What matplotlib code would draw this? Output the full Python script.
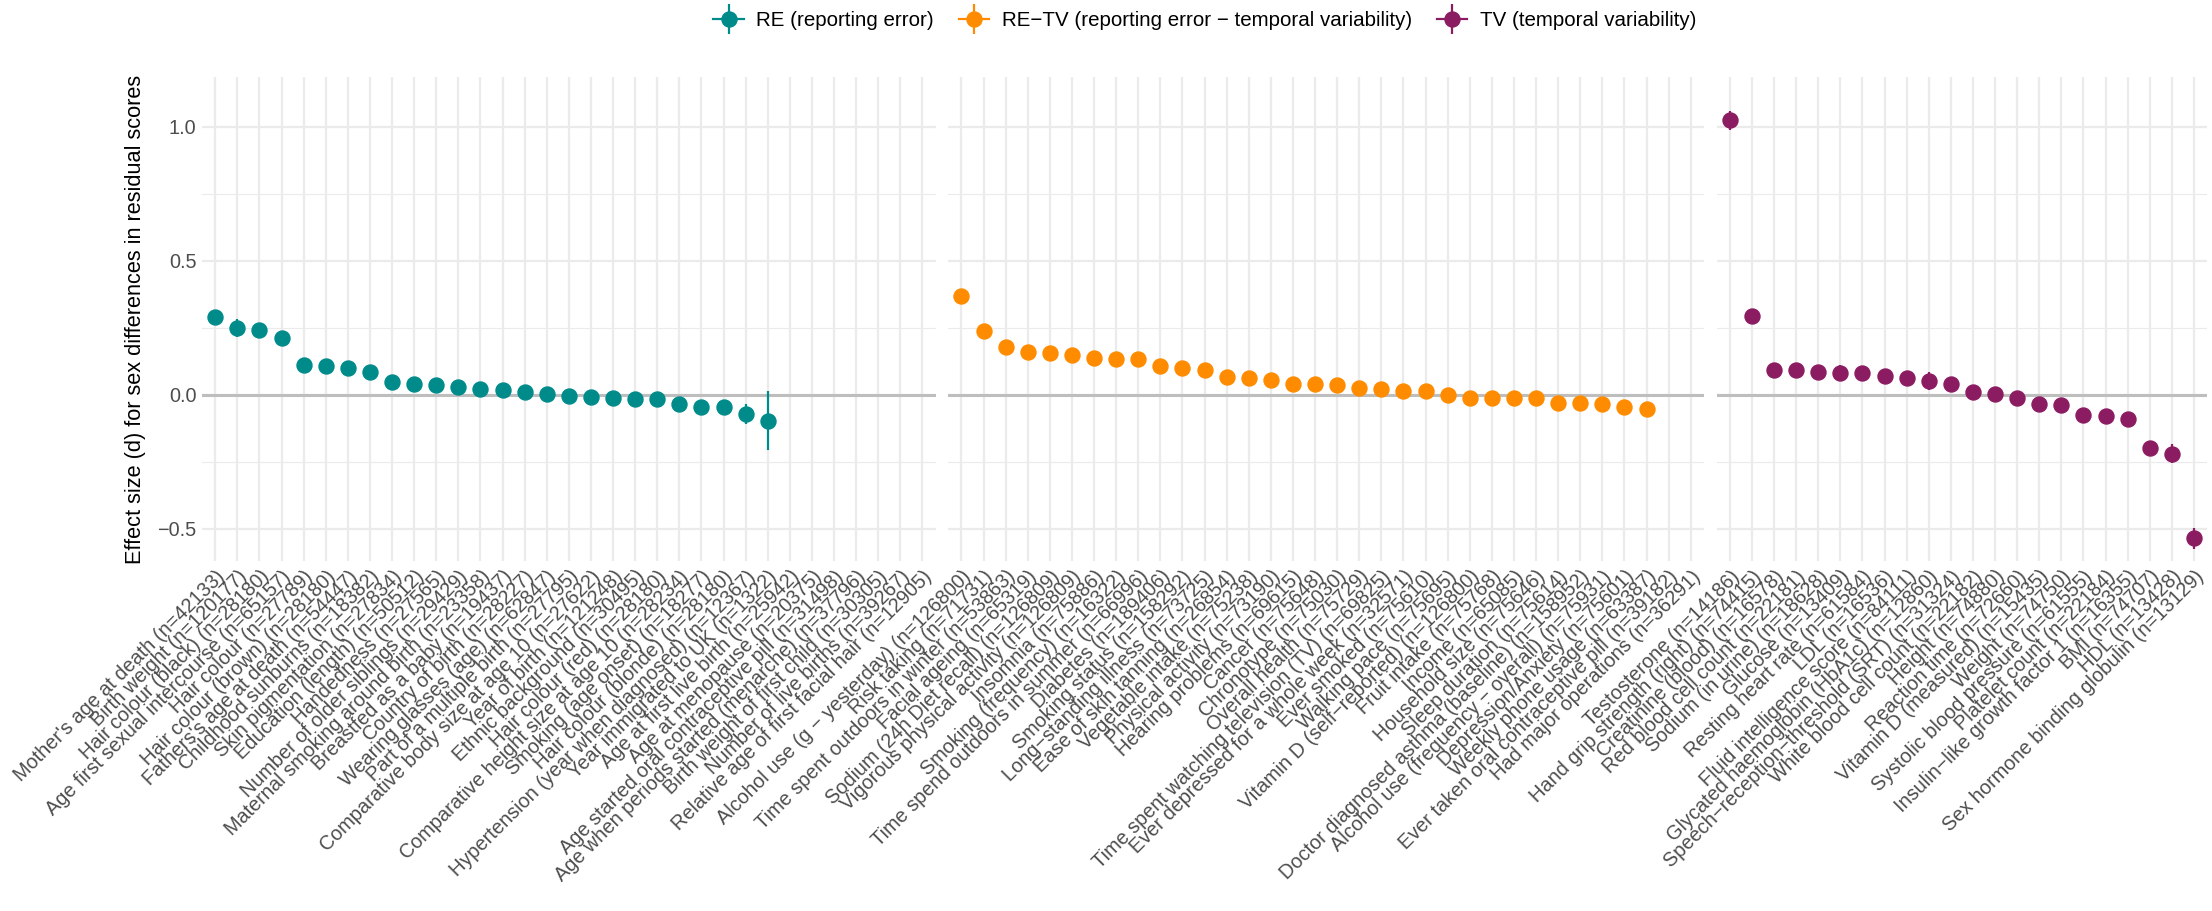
import numpy as np
import matplotlib.pyplot as plt
from matplotlib.lines import Line2D
from matplotlib.legend_handler import HandlerTuple

plt.rcParams['font.family'] = ['Liberation Sans', 'DejaVu Sans']

# RE (reporting error)
re_names = [
    "Mother's age at death", "Birth weight", "Hair colour (black)",
    "Age first sexual intercourse", "Hair colour", "Hair colour (brown)",
    "Fathers's age at death", "Childhood sunburns", "Skin pigmentation",
    "Education (length)", "Handedness", "Number of older siblings",
    "Maternal smoking around birth", "Breastfed as a baby", "Country of birth",
    "Wearing glasses (age)", "Part of a multiple birth",
    "Comparative body size at age 10", "Year of birth", "Ethnic background",
    "Hair colour (red)", "Comparative height size at age 10",
    "Smoking (age onset)", "Hair colour (blonde)",
    "Hypertension (year when diagnosed)", "Year immigrated to UK",
    "Age at first live birth", "Age at menopause",
    "Age started oral contraceptive pill", "Age when periods started (menarche)",
    "Birth weight of first child", "Number of live births",
    "Relative age of first facial hair",
]
re_n = [42133, 120177, 28180, 65157, 27789, 28180, 54447, 18382, 27834, 50512,
        27565, 29429, 23358, 19437, 28227, 62847, 27795, 27622, 121248, 30495,
        28180, 28234, 18277, 28180, 12367, 1322, 25942, 20375, 31498, 37796,
        30305, 39267, 12905]
re_d = [0.289, 0.249, 0.242, 0.213, 0.113, 0.109, 0.102, 0.086, 0.048, 0.040,
        0.035, 0.029, 0.020, 0.017, 0.009, 0.005, -0.004, -0.007, -0.012, -0.015,
        -0.017, -0.033, -0.044, -0.047, -0.073, -0.096,
        np.nan, np.nan, np.nan, np.nan, np.nan, np.nan, np.nan]
re_ci = [0.020, 0.035, 0.020, 0.018, 0.020, 0.020, 0.018, 0.020, 0.020, 0.018,
         0.020, 0.020, 0.020, 0.020, 0.020, 0.018, 0.020, 0.020, 0.015, 0.020,
         0.020, 0.020, 0.022, 0.020, 0.037, 0.110,
         np.nan, np.nan, np.nan, np.nan, np.nan, np.nan, np.nan]

# RE-TV (reporting error - temporal variability)
retv_names = [
    "Alcohol use (g \u2212 yesterday)", "Risk taking", "Time spent outdoors in winter",
    "Facial ageing", "Sodium (24h Diet recall)", "Vigorous physical activity",
    "Insomnia", "Smoking (frequency)", "Time spend outdoors in summer",
    "Diabetes", "Smoking status", "Long\u2212standing illness",
    "Ease of skin tanning", "Vegetable intake", "Physical activity",
    "Hearing problems", "Cancer", "Chronotype", "Overall health",
    "Time spent watching television (TV)", "Ever depressed for a whole week",
    "Ever smoked", "Walking pace", "Vitamin D (self\u2212reported)", "Fruit intake",
    "Income", "Household size", "Sleep duration",
    "Doctor diagnosed asthma (baseline)", "Alcohol use (frequency \u2212 overall)",
    "Depression/Anxiety", "Weekly phone usage",
    "Ever taken oral contraceptive pill", "Had major operations",
]
retv_n = [126800, 71731, 53863, 65319, 126809, 126809, 75886, 16322, 66996,
          189406, 158292, 73725, 26854, 75238, 73190, 69615, 75648, 75030, 75729,
          69825, 32571, 75610, 75695, 126800, 75768, 65085, 75646, 75614, 158952,
          75931, 75601, 63387, 39182, 36291]
retv_d = [0.368, 0.237, 0.178, 0.161, 0.156, 0.148, 0.138, 0.134, 0.132, 0.109,
          0.100, 0.093, 0.065, 0.064, 0.055, 0.041, 0.040, 0.036, 0.027, 0.020,
          0.016, 0.013, -0.001, -0.013, -0.013, -0.013, -0.013, -0.031, -0.031,
          -0.035, -0.047, -0.052, np.nan, np.nan]
retv_ci = [0.012, 0.015, 0.018, 0.015, 0.012, 0.012, 0.015, 0.020, 0.015, 0.010,
           0.010, 0.015, 0.018, 0.015, 0.015, 0.015, 0.015, 0.015, 0.015, 0.015,
           0.018, 0.015, 0.015, 0.012, 0.015, 0.015, 0.015, 0.015, 0.010, 0.015,
           0.015, 0.015, np.nan, np.nan]

# TV (temporal variability)
tv_names = [
    "Testosterone", "Hand grip strength (right)", "Creatinine (blood)",
    "Red blood cell count", "Sodium (in urine)", "Glucose", "Resting heart rate",
    "LDL", "Fluid intelligence score", "Glycated haemoglobin (HbA1c)",
    "Speech\u2212reception\u2212threshold (SRT)", "White blood cell count", "Height",
    "Reaction time", "Vitamin D (measured)", "Weight", "Systolic blood pressure",
    "Platelet count", "Insulin\u2212like growth factor 1", "BMI", "HDL",
    "Sex hormone binding globulin",
]
tv_n = [14186, 74415, 16578, 22181, 18628, 13409, 61584, 16536, 84111, 12860,
        31324, 22182, 74880, 72660, 15435, 74750, 61555, 22184, 16355, 74707,
        13428, 13129]
tv_d = [1.024, 0.295, 0.094, 0.093, 0.086, 0.082, 0.081, 0.072, 0.064, 0.052,
        0.039, 0.009, 0.003, -0.011, -0.033, -0.037, -0.077, -0.080, -0.092,
        -0.197, -0.219, -0.536]
tv_ci = [0.035, 0.022, 0.022, 0.022, 0.022, 0.030, 0.020, 0.025, 0.020, 0.035,
         0.022, 0.022, 0.015, 0.015, 0.022, 0.015, 0.018, 0.022, 0.022, 0.025,
         0.035, 0.040]

legend_labels = ["RE (reporting error)",
                 "RE\u2212TV (reporting error \u2212 temporal variability)",
                 "TV (temporal variability)"]
colors = ["#008B8B", "#FF8C00", "#8B1C62"]

panels = [
    (re_names, re_n, re_d, re_ci, colors[0]),
    (retv_names, retv_n, retv_d, retv_ci, colors[1]),
    (tv_names, tv_n, tv_d, tv_ci, colors[2]),
]

W, H = 2212, 911
fig = plt.figure(figsize=(W / 100, H / 100), dpi=100)

# panel geometry in pixels (facets with free x space)
unit = 22.1
gap = 12.5
left = 202
top, bottom = 77, 561
ylim = (-0.62, 1.186)

x0 = left
axes = []
for i, (names, ns, d, ci, col) in enumerate(panels):
    k = len(names)
    w = (k - 1 + 1.2) * unit
    ax = fig.add_axes([x0 / W, 1 - bottom / H, w / W, (bottom - top) / H])
    x0 += w + gap
    axes.append(ax)

    x = np.arange(k)
    ax.set_xlim(-0.6, k - 1 + 0.6)
    ax.set_ylim(*ylim)

    # grid like theme_minimal
    for xi in x:
        ax.axvline(xi, color="#EBEBEB", lw=1.6, zorder=0)
    for yv in [-0.5, 0.0, 0.5, 1.0]:
        ax.axhline(yv, color="#EBEBEB", lw=1.6, zorder=0)
    for yv in [-0.25, 0.25, 0.75]:
        ax.axhline(yv, color="#EBEBEB", lw=0.8, zorder=0)
    ax.axhline(0, color="#BEBEBE", lw=2.2, zorder=1)

    ax.errorbar(x, d, yerr=ci, fmt="o", color=col, ms=10.8,
                elinewidth=1.6, capsize=0, zorder=3)

    ax.set_xticks(x)
    ax.set_xticklabels([f"{a} (n={b})" for a, b in zip(names, ns)],
                       rotation=45, ha="right", va="top",
                       rotation_mode="anchor", fontsize=14.3, color="#4D4D4D")
    ax.tick_params(axis="both", length=0, pad=4)
    for s in ax.spines.values():
        s.set_visible(False)
    ax.set_yticks([-0.5, 0.0, 0.5, 1.0])
    if i == 0:
        ax.set_yticklabels(["\u22120.5", "0.0", "0.5", "1.0"],
                           fontsize=14.3, color="#4D4D4D")
        ax.set_ylabel("Effect size (d) for sex differences in residual scores",
                      fontsize=15.7, labelpad=8)
    else:
        ax.set_yticklabels([])

# legend with point + range keys
handles = []
for col in colors:
    h1 = Line2D([], [], color=col, lw=1.6, marker="o", ms=10.8)
    h2 = Line2D([], [], color=col, lw=0, marker="|", ms=21, mew=1.6)
    handles.append((h1, h2))

cx = (left + x0 - gap) / 2 / W
fig.legend(handles, legend_labels, handler_map={tuple: HandlerTuple(ndivide=1)},
           loc="center", bbox_to_anchor=(cx, 1 - 21 / H), ncol=3, frameon=False,
           fontsize=14.8, handlelength=1.5, handletextpad=0.6, columnspacing=1.2)

plt.savefig("out.png", dpi=100)
